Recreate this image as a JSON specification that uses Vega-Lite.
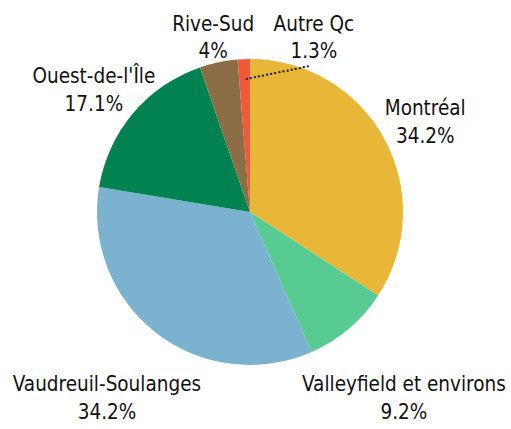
{
  "$schema": "https://vega.github.io/schema/vega-lite/v6.json",
  "autosize": {"type": "none"},
  "width": 500,
  "height": 424,
  "padding": {"left": 0, "top": 0, "right": 11, "bottom": 5},
  "background": "white",
  "view": {"stroke": null},
  "data": {
    "values": [
      {"region": "Montréal", "pct": 34.2, "order": 1},
      {"region": "Valleyfield et environs", "pct": 9.2, "order": 2},
      {"region": "Vaudreuil-Soulanges", "pct": 34.2, "order": 3},
      {"region": "Ouest-de-l'Île", "pct": 17.1, "order": 4},
      {"region": "Rive-Sud", "pct": 4, "order": 5},
      {"region": "Autre Qc", "pct": 1.3, "order": 6}
    ]
  },
  "transform": [
    {"calculate": "datum.region + '\\n' + datum.pct + '%'", "as": "label"}
  ],
  "encoding": {
    "theta": {"field": "pct", "type": "quantitative", "stack": true},
    "order": {"field": "order", "type": "quantitative"}
  },
  "layer": [
    {
      "mark": {"type": "arc", "outerRadius": 153, "stroke": null},
      "encoding": {
        "color": {
          "field": "region",
          "type": "nominal",
          "scale": {
            "domain": ["Montréal", "Valleyfield et environs", "Vaudreuil-Soulanges", "Ouest-de-l'Île", "Rive-Sud", "Autre Qc"],
            "range": ["#E9B737", "#58CB93", "#7AB2CF", "#028250", "#8B6E46", "#F05A3B"]
          },
          "legend": null
        }
      }
    },
    {
      "mark": {"type": "text", "radius": 197, "dx": 2, "dy": -9, "font": "DejaVu Sans Condensed", "fontSize": 20.5, "lineHeight": 28, "lineBreak": "\n", "baseline": "middle", "align": "center", "color": "#111"},
      "encoding": {"text": {"condition": {"test": "datum.region === 'Montréal'", "field": "label", "type": "nominal"}, "value": ""}}
    },
    {
      "mark": {"type": "text", "radius": 241, "dx": -2, "dy": -11, "font": "DejaVu Sans Condensed", "fontSize": 20.5, "lineHeight": 28, "lineBreak": "\n", "baseline": "middle", "align": "center", "color": "#111"},
      "encoding": {"text": {"condition": {"test": "datum.region === 'Valleyfield et environs'", "field": "label", "type": "nominal"}, "value": ""}}
    },
    {
      "mark": {"type": "text", "radius": 235, "dx": 1, "dy": -13, "font": "DejaVu Sans Condensed", "fontSize": 20.5, "lineHeight": 28, "lineBreak": "\n", "baseline": "middle", "align": "center", "color": "#111"},
      "encoding": {"text": {"condition": {"test": "datum.region === 'Vaudreuil-Soulanges'", "field": "label", "type": "nominal"}, "value": ""}}
    },
    {
      "mark": {"type": "text", "radius": 199, "dx": -4, "dy": -7, "font": "DejaVu Sans Condensed", "fontSize": 20.5, "lineHeight": 28, "lineBreak": "\n", "baseline": "middle", "align": "center", "color": "#111"},
      "encoding": {"text": {"condition": {"test": "datum.region === \"Ouest-de-l'Île\"", "field": "label", "type": "nominal"}, "value": ""}}
    },
    {
      "mark": {"type": "text", "radius": 179, "dx": 0, "dy": -12, "font": "DejaVu Sans Condensed", "fontSize": 20.5, "lineHeight": 27, "lineBreak": "\n", "baseline": "middle", "align": "center", "color": "#111"},
      "encoding": {"text": {"condition": {"test": "datum.region === 'Rive-Sud'", "field": "label", "type": "nominal"}, "value": ""}}
    },
    {
      "mark": {"type": "text", "radius": 175, "dx": 71, "dy": -12, "font": "DejaVu Sans Condensed", "fontSize": 20.5, "lineHeight": 27, "lineBreak": "\n", "baseline": "middle", "align": "center", "color": "#111"},
      "encoding": {"text": {"condition": {"test": "datum.region === 'Autre Qc'", "field": "label", "type": "nominal"}, "value": ""}}
    },
    {
      "mark": {"type": "text", "radius": 132, "angle": -11.6, "align": "left", "baseline": "middle", "font": "DejaVu Sans", "fontWeight": "bold", "fontSize": 11, "color": "#111"},
      "encoding": {"text": {"condition": {"test": "datum.region === 'Autre Qc'", "value": "················"}, "value": ""}}
    }
  ]
}
